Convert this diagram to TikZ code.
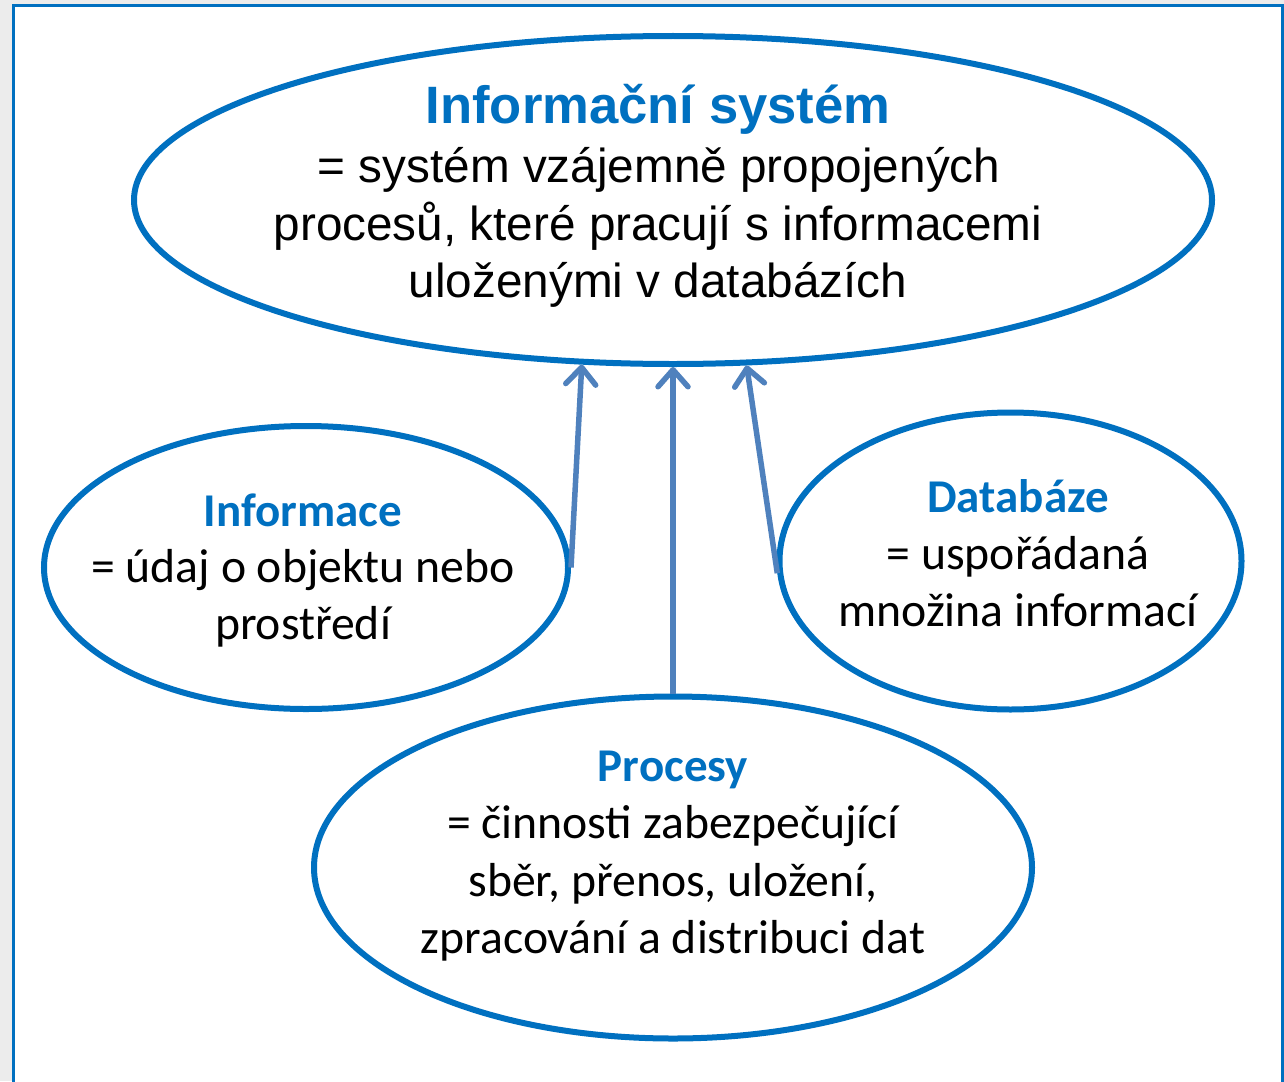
\documentclass[tikz,border=0pt]{standalone}
\usepackage{fontspec}
\usetikzlibrary{shapes.geometric,arrows.meta}
\newfontfamily\arialf{Liberation Sans}
\newfontfamily\calf{Carlito}
\definecolor{ellblue}{HTML}{0070C0}
\definecolor{arrblue}{HTML}{4F81BD}
\definecolor{bggrey}{HTML}{ECECEC}
\begin{document}
\begin{tikzpicture}[x=1pt,y=-1pt,
  ell/.style={draw=ellblue,line width=6pt,ellipse,inner sep=0pt},
  conn/.style={draw=arrblue,line width=5.5pt,line cap=butt,
    -{Straight Barb[length=17pt,width=30pt,line cap=round,line join=round]}},
  atitle/.style={anchor=base,inner sep=0pt,text=ellblue,font=\arialf\bfseries\fontsize{52.6}{60}\selectfont},
  abody/.style={anchor=base,inner sep=0pt,text=black,font=\arialf\fontsize{47.7}{57}\selectfont},
  ctitle/.style={anchor=base,inner sep=0pt,text=ellblue,font=\calf\bfseries\fontsize{47}{57}\selectfont},
  cbody/.style={anchor=base,inner sep=0pt,text=black,font=\calf\fontsize{47.7}{57}\selectfont}]
\useasboundingbox (0,0) rectangle (1284,1081);
\fill[bggrey] (0,0) rectangle (1284,1081);
\filldraw[fill=white,draw=ellblue,line width=3pt] (13,6) rectangle (1282,1100);

% ellipses
\node[ell,minimum width=1078pt,minimum height=328pt] (sys) at (673,200) {};
\node[ell,minimum width=524pt,minimum height=283pt] (inf) at (306,567.5) {};
\node[ell,minimum width=462pt,minimum height=297pt] (dat) at (1010.5,561) {};
\node[ell,minimum width=718pt,minimum height=342pt] (pro) at (673,867.5) {};

% connectors
\draw[conn] (inf.east) -- (sys.241.2);
\draw[conn] (pro.north) -- (sys.south);
\draw[conn] (dat.183.5) -- (sys.294.8);

% texts: Informační systém
\node[atitle] (s0) at (658,123) {Informační systém};
\node[abody] (s1) at (659,182) {= systém vzájemně propojených};
\node[abody] (s2) at (658,240) {procesů, které pracují s informacemi};
\node[abody] (s3) at (658,297) {uloženými v databázích};

% Informace
\node[ctitle] (i0) at (303,526) {Informace};
\node[cbody] (i1) at (303,582) {= údaj o objektu nebo};
\node[cbody] (i2) at (303,639) {prostředí};

% Databáze
\node[ctitle] (d0) at (1018,512) {Databáze};
\node[cbody] (d1) at (1018,569) {= uspořádaná};
\node[cbody] (d2) at (1018,626) {množina informací};

% Procesy
\node[ctitle] (p0) at (673,781) {Procesy};
\node[cbody] (p1) at (673,838) {= činnosti zabezpečující};
\node[cbody] (p2) at (673,896) {sběr, přenos, uložení,};
\node[cbody] (p3) at (673,953) {zpracování a distribuci dat};
\end{tikzpicture}
\end{document}
